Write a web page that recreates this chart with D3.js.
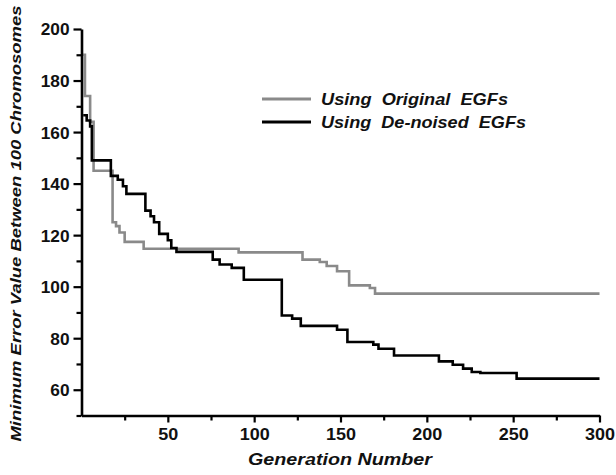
<!DOCTYPE html>
<html>
<head>
<meta charset="utf-8">
<script src="https://cdn.jsdelivr.net/npm/d3@7"></script>
<style>
  html, body { margin: 0; padding: 0; background: #fff; }
  svg { display: block; }
  text { font-family: "Liberation Sans", Arial, sans-serif; font-weight: bold; fill: #111; }
</style>
</head>
<body>
<svg id="chart" width="616" height="475"></svg>
<script>
// ---- Data ----
const seriesNames = ["Using  Original  EGFs", "Using  De-noised  EGFs"];

const origGen = [1, 2, 5, 7, 18, 20, 22, 25, 36, 91, 128, 138, 142, 148, 155, 167, 170, 300];
const origVal = [190, 174, 164, 145, 125, 123.5, 121, 117.4, 114.7, 113.3, 110.5, 109.6, 108, 106, 100.5, 99.5, 97.3, 97.3];

const denGen = [1, 3, 5, 6, 17, 21, 24, 26, 37, 40, 42, 45, 50, 52, 55, 76, 80, 87, 94, 116, 122, 127, 148, 154, 169, 172, 181, 207, 215, 221, 226, 231, 252, 300];
const denVal = [166.5, 164.5, 162.2, 149, 143, 141.5, 139, 136, 129.5, 127.3, 125, 120.5, 118, 115, 113.5, 110.5, 108.6, 107.3, 102.7, 88.8, 87.6, 84.8, 83.3, 78.5, 77.5, 75.9, 73.3, 71, 69.7, 68.2, 66.9, 66.5, 64.3, 64.3];

const xMajorTicks = [50, 100, 150, 200, 250, 300];
const xMinorTicks = [25, 75, 125, 175, 225, 275];
const yMajorTicks = [60, 80, 100, 120, 140, 160, 180, 200];
const yMinorTicks = [50, 70, 90, 110, 130, 150, 170, 190];

const xTitle = "Generation Number";
const yTitle = "Minimum Error Value Between 100 Chromosomes";

// ---- Layout ----
const svg = d3.select("#chart");
const x = d3.scaleLinear().domain([0, 300]).range([81.5, 599.5]);
const y = d3.scaleLinear().domain([50, 200]).range([415.5, 29]);

const colors = ["#8a8a8a", "#000000"];

// ---- Lines ----
const line = d3.line()
  .x(d => x(d[0]))
  .y(d => y(d[1]))
  .curve(d3.curveStepAfter);

const series = [
  d3.zip(origGen, origVal),
  d3.zip(denGen, denVal)
];

series.forEach((s, i) => {
  svg.append("path")
    .datum(s)
    .attr("d", line)
    .attr("fill", "none")
    .attr("stroke", colors[i])
    .attr("stroke-width", 2.6)
    .attr("stroke-linejoin", "miter");
});

// ---- Axes ----
function styleAxis(g) {
  g.selectAll("path.domain").attr("stroke", "#000").attr("stroke-width", 2.6);
  g.selectAll(".tick line").attr("stroke", "#000").attr("stroke-width", 2.2);
}

// y minor
svg.append("g")
  .attr("transform", `translate(${x(0)},0)`)
  .call(d3.axisLeft(y).tickValues(yMinorTicks).tickSize(5).tickFormat(""))
  .call(g => g.select("path.domain").remove())
  .call(styleAxis);

// y major
const yAxisG = svg.append("g")
  .attr("transform", `translate(${x(0)},0)`)
  .call(d3.axisLeft(y).tickValues(yMajorTicks).tickSize(8).tickSizeOuter(0).tickPadding(4))
  .call(styleAxis);
yAxisG.selectAll(".tick text")
  .attr("font-size", 16.5)
  .attr("font-family", "Liberation Sans, Arial, sans-serif")
  .attr("font-weight", "bold")
  .attr("fill", "#111")
  .attr("dy", "0.36em")
  .attr("textLength", d => String(d).length * 9.6)
  .attr("lengthAdjust", "spacingAndGlyphs");

// x minor
svg.append("g")
  .attr("transform", `translate(0,${y(50)})`)
  .call(d3.axisBottom(x).tickValues(xMinorTicks).tickSize(5).tickFormat(""))
  .call(g => g.select("path.domain").remove())
  .call(styleAxis);

// x major
const xAxisG = svg.append("g")
  .attr("transform", `translate(0,${y(50)})`)
  .call(d3.axisBottom(x).tickValues(xMajorTicks).tickSize(7).tickSizeOuter(0).tickPadding(6))
  .call(styleAxis);
xAxisG.selectAll(".tick text")
  .attr("font-size", 16)
  .attr("font-family", "Liberation Sans, Arial, sans-serif")
  .attr("font-weight", "bold")
  .attr("fill", "#111")
  .attr("dy", "0.71em")
  .attr("textLength", d => String(d).length * 10)
  .attr("lengthAdjust", "spacingAndGlyphs");

// ---- Axis titles ----
svg.append("text")
  .attr("x", 340)
  .attr("y", 464.5)
  .attr("text-anchor", "middle")
  .attr("font-size", 16)
  .attr("font-style", "italic")
  .attr("textLength", 184)
  .attr("lengthAdjust", "spacingAndGlyphs")
  .text(xTitle);

svg.append("text")
  .attr("transform", "translate(21,223.5) rotate(-90)")
  .attr("text-anchor", "middle")
  .attr("font-size", 15.5)
  .attr("font-style", "italic")
  .attr("textLength", 436)
  .attr("lengthAdjust", "spacingAndGlyphs")
  .text(yTitle);

// ---- Legend ----
const legendY = [99, 122];
const legendTextLen = [187, 205];
seriesNames.forEach((name, i) => {
  svg.append("line")
    .attr("x1", 262).attr("x2", 311)
    .attr("y1", legendY[i]).attr("y2", legendY[i])
    .attr("stroke", colors[i])
    .attr("stroke-width", 2.8);
  svg.append("text")
    .attr("x", 321)
    .attr("y", legendY[i] + 6)
    .attr("font-size", 17)
    .attr("font-style", "italic")
    .attr("textLength", legendTextLen[i])
    .attr("lengthAdjust", "spacingAndGlyphs")
    .style("white-space", "pre")
    .text(name);
});
</script>
</body>
</html>
